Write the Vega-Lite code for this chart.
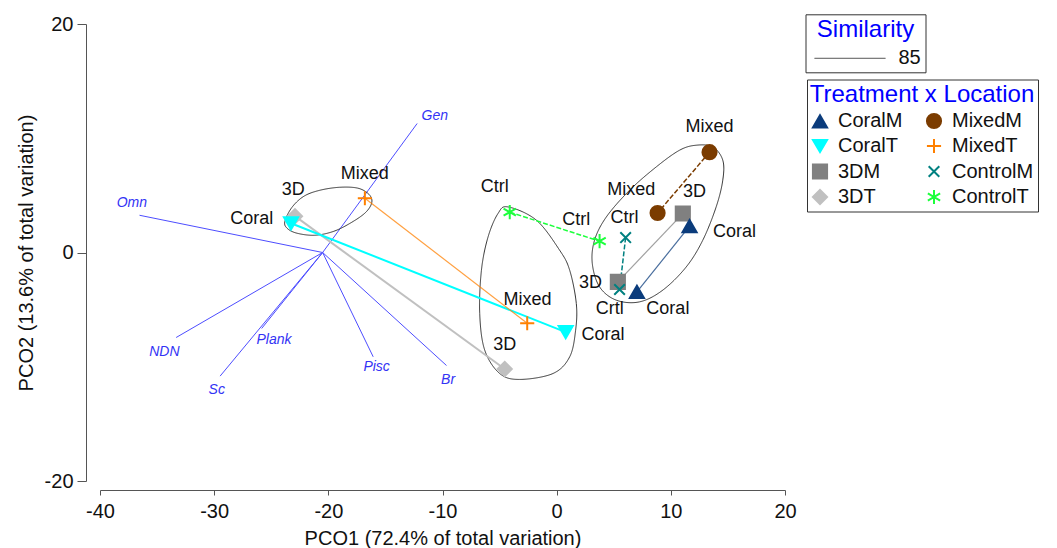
{
  "$schema": "https://vega.github.io/schema/vega-lite/v6.json",
  "width": 685,
  "height": 457,
  "autosize": {"type": "none"},
  "padding": {"left": 100, "top": 24, "right": 272, "bottom": 67},
  "background": "white",
  "config": {
    "view": {"stroke": null},
    "font": "Liberation Sans",
    "axis": {
      "grid": false,
      "domainColor": "#555555",
      "tickColor": "#555555",
      "labelColor": "#111111",
      "titleColor": "#111111",
      "labelFontSize": 20,
      "titleFontSize": 20,
      "titleFontWeight": "normal",
      "labelFlush": false,
      "labelExpr": "datum.value"
    },
    "legend": {
      "symbolOpacity": 1,
      "titleLimit": 400,
      "labelLimit": 200
    }
  },
  "datasets": {
    "pts": [
      {"grp": "3DT", "stage": 1, "x": -22.92, "y": 3.18, "lab": "3D", "lx": -23.07, "ly": 5.45},
      {"grp": "3DT", "stage": 2, "x": -4.55, "y": -10.2, "lab": "3D", "lx": -4.55, "ly": -8.11},
      {"grp": "CoralT", "stage": 1, "x": -23.27, "y": 2.56, "lab": "Coral", "lx": -26.71, "ly": 2.89},
      {"grp": "CoralT", "stage": 2, "x": 0.79, "y": -6.97, "lab": "Coral", "lx": 4.05, "ly": -7.24},
      {"grp": "MixedT", "stage": 1, "x": -16.8, "y": 4.75, "lab": "Mixed", "lx": -16.8, "ly": 6.85},
      {"grp": "MixedT", "stage": 2, "x": -2.58, "y": -6.19, "lab": "Mixed", "lx": -2.56, "ly": -4.17},
      {"grp": "ControlT", "stage": 1, "x": -4.11, "y": 3.53, "lab": "Ctrl", "lx": -5.42, "ly": 5.74},
      {"grp": "ControlT", "stage": 2, "x": 3.76, "y": 0.99, "lab": "Ctrl", "lx": 1.72, "ly": 2.83},
      {"grp": "MixedM", "stage": 1, "x": 13.39, "y": 8.78, "lab": "Mixed", "lx": 13.39, "ly": 10.99},
      {"grp": "MixedM", "stage": 2, "x": 8.84, "y": 3.46, "lab": "Mixed", "lx": 6.54, "ly": 5.45},
      {"grp": "3DM", "stage": 1, "x": 11.05, "y": 3.41, "lab": "3D", "lx": 12.07, "ly": 5.3},
      {"grp": "3DM", "stage": 2, "x": 5.36, "y": -2.57, "lab": "3D", "lx": 2.97, "ly": -2.69},
      {"grp": "CoralM", "stage": 1, "x": 11.64, "y": 2.3, "lab": "Coral", "lx": 15.57, "ly": 1.81},
      {"grp": "CoralM", "stage": 2, "x": 7.03, "y": -3.45, "lab": "Coral", "lx": 9.74, "ly": -4.96},
      {"grp": "ControlM", "stage": 1, "x": 6.04, "y": 1.31, "lab": "Ctrl", "lx": 5.95, "ly": 3.06},
      {"grp": "ControlM", "stage": 2, "x": 5.51, "y": -3.24, "lab": "Crtl", "lx": 4.64, "ly": -4.96}
    ],
    "vec": [
      {"name": "Gen", "x": -20.5, "y": 0, "ex": -12.22, "ey": 11.29, "lx": -10.67, "ly": 11.92},
      {"name": "Omn", "x": -20.5, "y": 0, "ex": -36.54, "ey": 3.26, "lx": -37.21, "ly": 4.34},
      {"name": "NDN", "x": -20.5, "y": 0, "ex": -33.33, "ey": -7.44, "lx": -34.36, "ly": -8.7},
      {"name": "Sc", "x": -20.5, "y": 0, "ex": -29.48, "ey": -10.82, "lx": -29.77, "ly": -12.05},
      {"name": "Plank", "x": -20.5, "y": 0, "ex": -25.84, "ey": -6.65, "lx": -24.76, "ly": -7.67},
      {"name": "Pisc", "x": -20.5, "y": 0, "ex": -16.07, "ey": -9.13, "lx": -15.77, "ly": -10.06},
      {"name": "Br", "x": -20.5, "y": 0, "ex": -9.65, "ey": -9.89, "lx": -9.51, "ly": -11.17}
    ],
    "ell": [
      {"e": 1, "i": 1, "sim": "85", "x": -23.8, "y": 2.74},
      {"e": 1, "i": 2, "sim": "85", "x": -23.18, "y": 3.96},
      {"e": 1, "i": 3, "sim": "85", "x": -22.13, "y": 4.93},
      {"e": 1, "i": 4, "sim": "85", "x": -20.73, "y": 5.45},
      {"e": 1, "i": 5, "sim": "85", "x": -18.99, "y": 5.71},
      {"e": 1, "i": 6, "sim": "85", "x": -17.41, "y": 5.63},
      {"e": 1, "i": 7, "sim": "85", "x": -16.45, "y": 5.1},
      {"e": 1, "i": 8, "sim": "85", "x": -16.19, "y": 4.4},
      {"e": 1, "i": 9, "sim": "85", "x": -16.71, "y": 3.53},
      {"e": 1, "i": 10, "sim": "85", "x": -17.94, "y": 2.65},
      {"e": 1, "i": 11, "sim": "85", "x": -19.51, "y": 1.86},
      {"e": 1, "i": 12, "sim": "85", "x": -21.18, "y": 1.51},
      {"e": 1, "i": 13, "sim": "85", "x": -22.75, "y": 1.69},
      {"e": 1, "i": 14, "sim": "85", "x": -23.62, "y": 2.13},
      {"e": 2, "i": 1, "sim": "85", "x": -4.26, "y": 3.99},
      {"e": 2, "i": 2, "sim": "85", "x": -1.78, "y": 2.83},
      {"e": 2, "i": 3, "sim": "85", "x": 0.26, "y": 0.2},
      {"e": 2, "i": 4, "sim": "85", "x": 1.14, "y": -1.55},
      {"e": 2, "i": 5, "sim": "85", "x": 1.72, "y": -4.46},
      {"e": 2, "i": 6, "sim": "85", "x": 1.66, "y": -6.8},
      {"e": 2, "i": 7, "sim": "85", "x": 1.14, "y": -9.13},
      {"e": 2, "i": 8, "sim": "85", "x": -0.32, "y": -10.59},
      {"e": 2, "i": 9, "sim": "85", "x": -3.24, "y": -11.11},
      {"e": 2, "i": 10, "sim": "85", "x": -4.99, "y": -10.59},
      {"e": 2, "i": 11, "sim": "85", "x": -6.3, "y": -8.55},
      {"e": 2, "i": 12, "sim": "85", "x": -6.74, "y": -5.34},
      {"e": 2, "i": 13, "sim": "85", "x": -6.59, "y": -1.55},
      {"e": 2, "i": 14, "sim": "85", "x": -6.01, "y": 1.36},
      {"e": 2, "i": 15, "sim": "85", "x": -5.14, "y": 3.41},
      {"e": 3, "i": 1, "sim": "85", "x": 12.22, "y": 9.39},
      {"e": 3, "i": 2, "sim": "85", "x": 13.67, "y": 9.24},
      {"e": 3, "i": 3, "sim": "85", "x": 14.55, "y": 8.08},
      {"e": 3, "i": 4, "sim": "85", "x": 14.55, "y": 6.33},
      {"e": 3, "i": 5, "sim": "85", "x": 13.97, "y": 3.99},
      {"e": 3, "i": 6, "sim": "85", "x": 12.8, "y": 1.08},
      {"e": 3, "i": 7, "sim": "85", "x": 11.35, "y": -1.26},
      {"e": 3, "i": 8, "sim": "85", "x": 9.3, "y": -3.29},
      {"e": 3, "i": 9, "sim": "85", "x": 7.26, "y": -4.32},
      {"e": 3, "i": 10, "sim": "85", "x": 5.22, "y": -4.17},
      {"e": 3, "i": 11, "sim": "85", "x": 3.76, "y": -3.01},
      {"e": 3, "i": 12, "sim": "85", "x": 3.12, "y": -0.96},
      {"e": 3, "i": 13, "sim": "85", "x": 3.32, "y": 1.08},
      {"e": 3, "i": 14, "sim": "85", "x": 4.35, "y": 3.11},
      {"e": 3, "i": 15, "sim": "85", "x": 6.39, "y": 5.45},
      {"e": 3, "i": 16, "sim": "85", "x": 8.72, "y": 7.49},
      {"e": 3, "i": 17, "sim": "85", "x": 10.76, "y": 8.95}
    ]
  },
  "layer": [
    {
      "data": {"name": "vec"},
      "mark": {"type": "rule", "color": "#4d4dff", "strokeWidth": 1},
      "encoding": {
        "x": {
          "field": "x", "type": "quantitative",
          "scale": {"domain": [-40, 20], "nice": false, "zero": false},
          "axis": {
            "title": "PCO1 (72.4% of total variation)",
            "values": [-40, -30, -20, -10, 0, 10, 20],
            "offset": 9, "tickSize": 5, "labelPadding": 6, "titlePadding": 7
          }
        },
        "y": {
          "field": "y", "type": "quantitative",
          "scale": {"domain": [-20, 20], "nice": false, "zero": false},
          "axis": {
            "title": "PCO2 (13.6% of total variation)",
            "values": [-20, 0, 20],
            "offset": 14, "tickSize": 9, "labelPadding": 4, "titlePadding": 8
          }
        },
        "x2": {"field": "ex"},
        "y2": {"field": "ey"}
      }
    },
    {
      "data": {"name": "vec"},
      "mark": {"type": "text", "color": "#3333f5", "fontSize": 14, "fontStyle": "italic", "align": "center", "baseline": "middle"},
      "encoding": {
        "x": {"field": "lx", "type": "quantitative"},
        "y": {"field": "ly", "type": "quantitative"},
        "text": {"field": "name"}
      }
    },
    {
      "data": {"name": "ell"},
      "mark": {"type": "line", "color": "#333333", "strokeWidth": 1, "interpolate": "cardinal-closed"},
      "encoding": {
        "x": {"field": "x", "type": "quantitative"},
        "y": {"field": "y", "type": "quantitative"},
        "detail": {"field": "e"},
        "order": {"field": "i", "type": "quantitative"},
        "strokeDash": {
          "field": "sim", "type": "nominal",
          "scale": {"domain": ["85"], "range": [[1, 0]]},
          "legend": {
            "title": "Similarity", "orient": "none", "legendX": 705.5, "legendY": -9.7,
            "padding": 4, "strokeColor": "#333333",
            "titleColor": "#0000ff", "titleFontSize": 24, "titleFontWeight": "normal", "titlePadding": 6, "titleAnchor": "middle",
            "labelFontSize": 20, "labelColor": "#111111",
            "symbolType": "M-4,0L4,0", "symbolSize": 315, "symbolStrokeColor": "#333333", "symbolStrokeWidth": 1,
            "symbolOffset": 30.5, "labelOffset": 38.5
          }
        }
      }
    },
    {
      "data": {"name": "pts"},
      "transform": [{"filter": {"field": "grp", "oneOf": ["CoralT", "3DT"]}}],
      "mark": {"type": "line", "strokeWidth": 2},
      "encoding": {
        "x": {"field": "x", "type": "quantitative"},
        "y": {"field": "y", "type": "quantitative"},
        "order": {"field": "stage", "type": "quantitative"},
        "stroke": {"field": "grp", "type": "nominal"}
      }
    },
    {
      "data": {"name": "pts"},
      "transform": [{"filter": {"field": "grp", "oneOf": ["MixedT", "CoralM", "3DM"]}}],
      "mark": {"type": "line", "strokeWidth": 1.2, "opacity": 0.75},
      "encoding": {
        "x": {"field": "x", "type": "quantitative"},
        "y": {"field": "y", "type": "quantitative"},
        "order": {"field": "stage", "type": "quantitative"},
        "stroke": {"field": "grp", "type": "nominal"}
      }
    },
    {
      "data": {"name": "pts"},
      "transform": [{"filter": {"field": "grp", "oneOf": ["ControlT", "MixedM", "ControlM"]}}],
      "mark": {"type": "line", "strokeWidth": 1.5, "strokeDash": [5, 2]},
      "encoding": {
        "x": {"field": "x", "type": "quantitative"},
        "y": {"field": "y", "type": "quantitative"},
        "order": {"field": "stage", "type": "quantitative"},
        "stroke": {"field": "grp", "type": "nominal"}
      }
    },
    {
      "data": {"name": "pts"},
      "mark": {"type": "point", "filled": true, "opacity": 1, "size": 200, "strokeWidth": 2},
      "encoding": {
        "x": {"field": "x", "type": "quantitative"},
        "y": {"field": "y", "type": "quantitative"},
        "fill": {
          "field": "grp", "type": "nominal",
          "scale": {
            "domain": ["CoralM", "CoralT", "3DM", "3DT", "MixedM", "MixedT", "ControlM", "ControlT"],
            "range": ["#0b3c7c", "#00ffff", "#808080", "#c0c0c0", "#7b3c00", "#ff8000", "#008080", "#1cff3c"]
          },
          "legend": {
            "title": "Treatment x Location", "orient": "none", "legendX": 707, "legendY": 55.5,
            "columns": 2, "columnPadding": 19, "rowPadding": 1.5, "padding": 3,
            "strokeColor": "#333333",
            "titleColor": "#0000ff", "titleFontSize": 24, "titleFontWeight": "normal", "titlePadding": 4, "titleAnchor": "middle",
            "labelFontSize": 20, "labelColor": "#111111", "labelOffset": 8,
            "symbolSize": 200, "symbolStrokeWidth": 2
          }
        },
        "stroke": {
          "field": "grp", "type": "nominal",
          "scale": {
            "domain": ["CoralM", "CoralT", "3DM", "3DT", "MixedM", "MixedT", "ControlM", "ControlT"],
            "range": ["#0b3c7c", "#00ffff", "#808080", "#c0c0c0", "#7b3c00", "#ff8000", "#008080", "#1cff3c"]
          },
          "legend": {
            "title": "Treatment x Location", "orient": "none", "legendX": 707, "legendY": 55.5,
            "columns": 2, "columnPadding": 19, "rowPadding": 1.5, "padding": 3,
            "strokeColor": "#333333",
            "titleColor": "#0000ff", "titleFontSize": 24, "titleFontWeight": "normal", "titlePadding": 4, "titleAnchor": "middle",
            "labelFontSize": 20, "labelColor": "#111111", "labelOffset": 8,
            "symbolSize": 200, "symbolStrokeWidth": 2
          }
        },
        "shape": {
          "field": "grp", "type": "nominal",
          "scale": {
            "domain": ["CoralM", "CoralT", "3DM", "3DT", "MixedM", "MixedT", "ControlM", "ControlT"],
            "range": ["triangle-up", "triangle-down", "square", "diamond", "circle", "M-1,0L1,0M0,-1L0,1", "M-0.75,-0.75L0.75,0.75M-0.75,0.75L0.75,-0.75", "M0,-1L0,1M-0.87,-0.5L0.87,0.5M-0.87,0.5L0.87,-0.5"]
          },
          "legend": {
            "title": "Treatment x Location", "orient": "none", "legendX": 707, "legendY": 55.5,
            "columns": 2, "columnPadding": 19, "rowPadding": 1.5, "padding": 3,
            "strokeColor": "#333333",
            "titleColor": "#0000ff", "titleFontSize": 24, "titleFontWeight": "normal", "titlePadding": 4, "titleAnchor": "middle",
            "labelFontSize": 20, "labelColor": "#111111", "labelOffset": 8,
            "symbolSize": 200, "symbolStrokeWidth": 2
          }
        }
      }
    },
    {
      "data": {"name": "pts"},
      "mark": {"type": "text", "color": "#111111", "fontSize": 18, "align": "center", "baseline": "middle"},
      "encoding": {
        "x": {"field": "lx", "type": "quantitative"},
        "y": {"field": "ly", "type": "quantitative"},
        "text": {"field": "lab"}
      }
    }
  ]
}
